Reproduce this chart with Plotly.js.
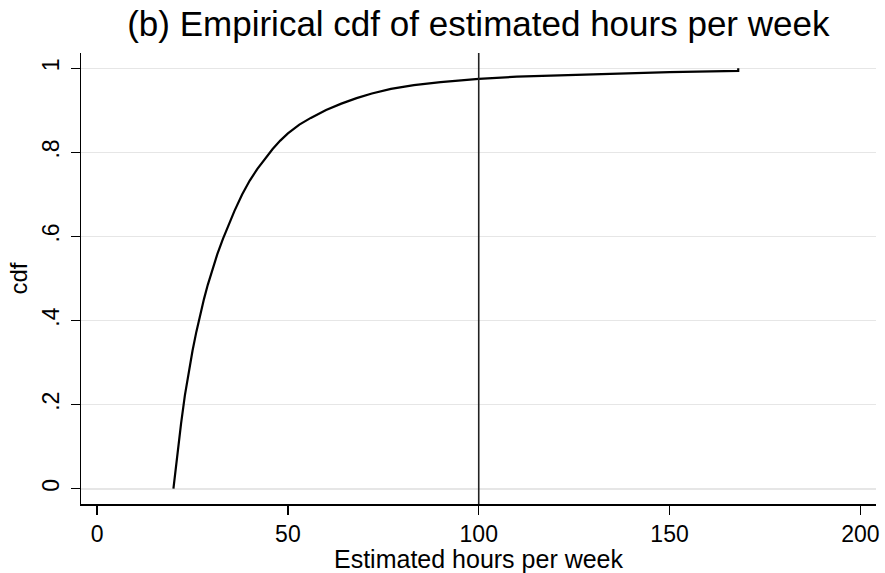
<!DOCTYPE html>
<html>
<head>
<meta charset="utf-8">
<script src="https://cdn.plot.ly/plotly-3.0.1.min.js"></script>
<style>
  html, body { margin: 0; padding: 0; background: #ffffff; }
  #chart { width: 885px; height: 573px; }
</style>
</head>
<body>
<div id="chart"></div>
<script>
// Estimated hours per week (x) and the empirical cumulative share (y)
const hours = [20, 20.5, 21, 21.5, 22, 23, 24, 25, 26, 27, 28, 29, 30, 31.5, 33, 34.5, 36, 38, 40, 42, 44, 46, 48, 50, 53, 56, 60, 64, 68, 72, 77, 83, 90, 100, 110, 120, 135, 150, 168, 168];
const cdf   = [0, 0.041, 0.081, 0.12, 0.155, 0.222, 0.278, 0.328, 0.373, 0.414, 0.451, 0.485, 0.516, 0.558, 0.595, 0.629, 0.661, 0.700, 0.733, 0.761, 0.786, 0.808, 0.828, 0.845, 0.866, 0.882, 0.901, 0.916, 0.929, 0.940, 0.951, 0.960, 0.967, 0.975, 0.980, 0.983, 0.987, 0.991, 0.994, 1.0];

const xTickVals = [0, 50, 100, 150, 200];
const xTickText = ["0", "50", "100", "150", "200"];
const yTickVals = [0, 0.2, 0.4, 0.6, 0.8, 1];
const yTickText = ["0", ".2", ".4", ".6", ".8", "1"];

const markerLine = 100;   // reference line on the hours axis

const FONT = "Liberation Sans, Arial, Helvetica, sans-serif";

const trace = {
  x: hours,
  y: cdf,
  type: "scatter",
  mode: "lines",
  line: { color: "#000000", width: 2.2, shape: "linear" },
  hoverinfo: "x+y"
};

const layout = {
  width: 885,
  height: 573,
  paper_bgcolor: "#ffffff",
  plot_bgcolor: "#ffffff",
  showlegend: false,
  margin: { l: 81, r: 9, t: 53, b: 69 },
  font: { family: FONT, color: "#000000" },
  title: {
    text: "(b) Empirical cdf of estimated hours per week",
    font: { family: FONT, size: 35, color: "#000000" },
    x: 0.5405, xanchor: "center",
    y: 0.958, yanchor: "middle"
  },
  xaxis: {
    range: [-4.22, 204.1],
    tickmode: "array",
    tickvals: xTickVals,
    ticktext: xTickText,
    ticks: "outside",
    ticklen: 9,
    tickwidth: 1.5,
    tickcolor: "#000000",
    tickfont: { family: FONT, size: 23, color: "#000000" },
    showline: true,
    linecolor: "#000000",
    linewidth: 1.5,
    showgrid: false,
    zeroline: false,
    title: {
      text: "Estimated hours per week",
      font: { family: FONT, size: 25, color: "#000000" },
      standoff: 6
    }
  },
  yaxis: {
    range: [-0.0364, 1.0364],
    tickmode: "array",
    tickvals: yTickVals,
    ticktext: yTickText,
    tickangle: -90,
    ticks: "outside",
    ticklen: 9,
    tickwidth: 1.5,
    tickcolor: "#000000",
    ticklabelstandoff: 2,
    tickfont: { family: FONT, size: 23, color: "#000000" },
    showline: true,
    linecolor: "#000000",
    linewidth: 1.5,
    showgrid: true,
    gridcolor: "#e6e6e6",
    gridwidth: 1.6,
    zeroline: false,
    title: {
      text: "cdf",
      font: { family: FONT, size: 24, color: "#000000" },
      standoff: 4
    }
  },
  shapes: [{
    type: "line",
    xref: "x", yref: "paper",
    x0: markerLine, x1: markerLine,
    y0: 0, y1: 1,
    line: { color: "#222222", width: 1.6 }
  }]
};

Plotly.newPlot("chart", [trace], layout, { displayModeBar: false, staticPlot: true });
</script>
</body>
</html>
